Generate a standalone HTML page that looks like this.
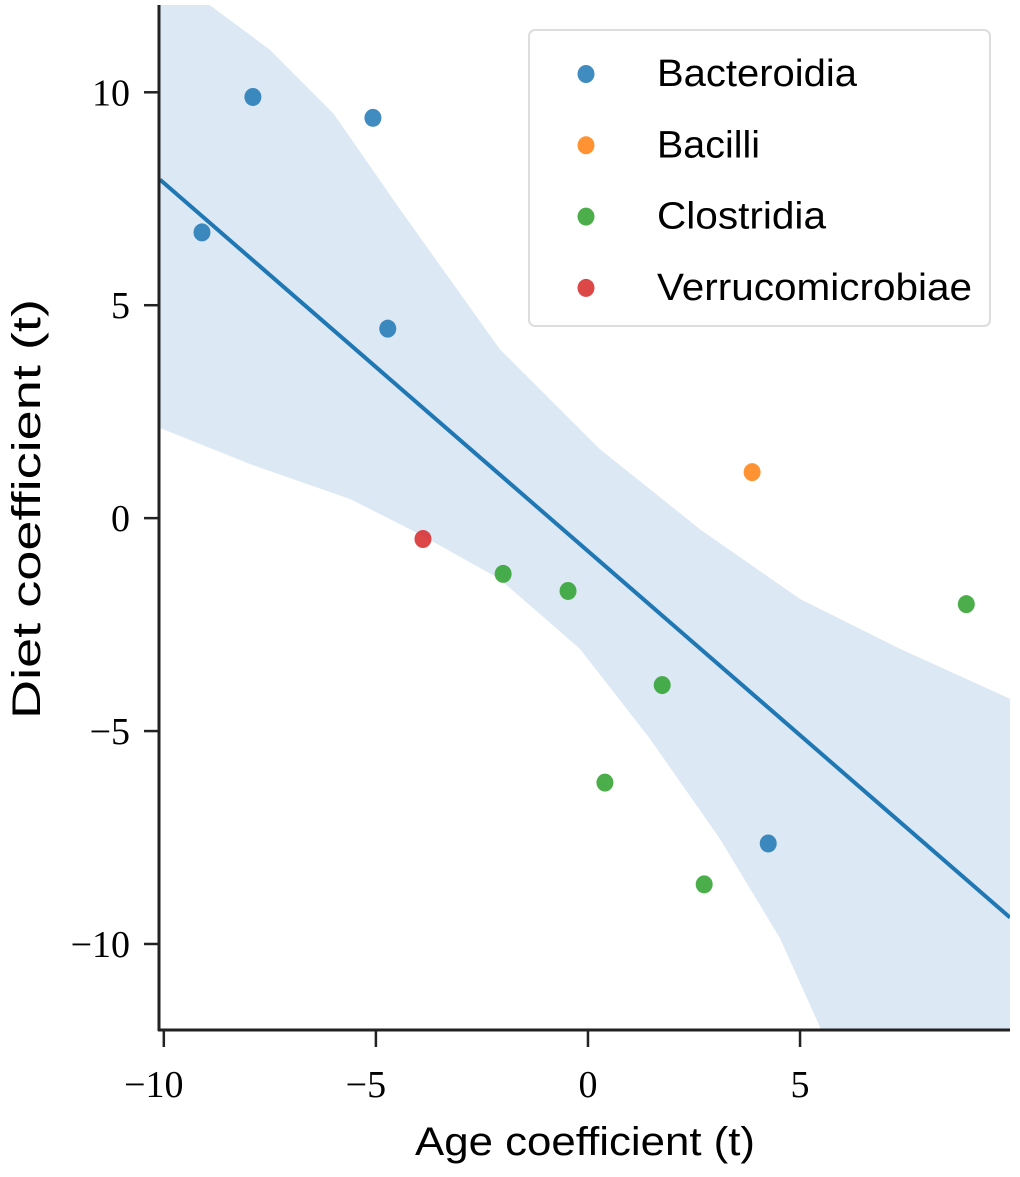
<!DOCTYPE html>
<html><head><meta charset="utf-8"><style>
html,body{margin:0;padding:0;background:#fff;width:1020px;height:1177px;overflow:hidden}
svg text{fill:#000}
.tick{font-family:"Liberation Serif",serif;font-size:38px}
.lab{font-family:"Liberation Sans",sans-serif;font-size:40px}
.leg{font-family:"Liberation Sans",sans-serif;font-size:38px}
</style></head><body>
<svg id="chart" width="1020" height="1177" viewBox="0 0 1020 1177" xmlns="http://www.w3.org/2000/svg">
<defs><clipPath id="plotclip"><rect x="160" y="5" width="850" height="1025"/></clipPath></defs>
<g id="band" clip-path="url(#plotclip)"></g>
<g id="line" clip-path="url(#plotclip)"></g>
<g id="points"></g>
<g id="axes"></g>
<g id="legend"></g>
<text class="lab" x="585" y="1155" text-anchor="middle" textLength="340" lengthAdjust="spacingAndGlyphs">Age coefficient (t)</text>
<text class="lab" transform="translate(40,509) rotate(-90)" text-anchor="middle" textLength="420" lengthAdjust="spacingAndGlyphs">Diet coefficient (t)</text>
</svg>
<script>
const xVals = [-7.9,-5.07,-9.10,-4.72,3.87,-3.89,-2.0,-0.47,1.75,0.40,2.74,8.92,4.25];
const yVals = [9.89,9.40,6.71,4.45,1.08,-0.49,-1.31,-1.71,-3.92,-6.21,-8.60,-2.02,-7.64];
const classes = ["Bacteroidia","Bacteroidia","Bacteroidia","Bacteroidia","Bacilli","Verrucomicrobiae","Clostridia","Clostridia","Clostridia","Clostridia","Clostridia","Clostridia","Bacteroidia"];
const legendLabels = ["Bacteroidia","Bacilli","Clostridia","Verrucomicrobiae"];
const legendColors = ["#1f77b4","#ff7f0e","#2ca02c","#d62728"];
const legendWidths = [200,103,169,315];
const bandUpperX = [-10.3,-10.3,-8.92,-7.5,-6.0,-4.43,-2.08,0.28,2.64,5.0,7.36,10.3,10.3];
const bandUpperY = [2.2,13,12.05,11.0,9.5,7.25,3.97,1.62,-0.26,-1.9,-3.07,-4.4,-13];
const bandLowerX = [-10.3,-7.97,-5.61,-3.96,-2.08,-0.19,1.46,3.11,4.53,5.47,5.6];
const bandLowerY = [2.2,1.27,0.45,-0.38,-1.43,-3.07,-5.18,-7.53,-9.87,-11.95,-13];
const xTicks = [-10,-5,0,5];
const yTicks = [-10,-5,0,5,10];
const xTickLabels = ["\u221210","\u22125","0","5"];
const yTickLabels = ["\u221210","\u22125","0","5","10"];

const NS="http://www.w3.org/2000/svg";
const X0=-10.09, X1=9.95, PX0=160, PX1=1010;
const Y0=-12.02, Y1=12.05, PY0=1030, PY1=5;
const sx=v=>PX0+(v-X0)/(X1-X0)*(PX1-PX0);
const sy=v=>PY0-(v-Y0)/(Y1-Y0)*(PY0-PY1);
function mk(tag,attrs,parent){const e=document.createElementNS(NS,tag);for(const k in attrs)e.setAttribute(k,attrs[k]);parent.appendChild(e);return e;}

let d="M"+bandUpperX.map((x,i)=>sx(x)+","+sy(bandUpperY[i])).join("L");
for(let i=bandLowerX.length-1;i>=0;i--) d+="L"+sx(bandLowerX[i])+","+sy(bandLowerY[i]);
const bandPath=mk("path",{d:d+"Z",fill:"#dce8f3"},document.getElementById("band"));



const n=xVals.length, mx=xVals.reduce((a,b)=>a+b)/n, my=yVals.reduce((a,b)=>a+b)/n;
let sxy=0,sxx=0;for(let i=0;i<n;i++){sxy+=(xVals[i]-mx)*(yVals[i]-my);sxx+=(xVals[i]-mx)**2;}
const slope=sxy/sxx, icpt=my-slope*mx;
const ln=mk("line",{x1:sx(X0),y1:sy(icpt+slope*X0),x2:sx(X1),y2:sy(icpt+slope*X1),stroke:"#1f77b4","stroke-width":4},document.getElementById("line"));



const pg=document.getElementById("points");
for(let i=0;i<n;i++){
  const c=legendColors[legendLabels.indexOf(classes[i])];
  const p=mk("ellipse",{cx:sx(xVals[i]),cy:sy(yVals[i]),rx:8.5,ry:9,fill:c,"fill-opacity":0.85},pg);
  
  
}

const ag=document.getElementById("axes");
mk("line",{x1:159,y1:5,x2:159,y2:1031,stroke:"#222","stroke-width":3},ag);
mk("line",{x1:158,y1:1030,x2:1010,y2:1030,stroke:"#222","stroke-width":3},ag);
xTicks.forEach((v,i)=>{
  mk("line",{x1:sx(v),y1:1030,x2:sx(v),y2:1047,stroke:"#222","stroke-width":2.5},ag);
  const t=mk("text",{x:sx(v)-(v<0?10:0),y:1097,"text-anchor":"middle",class:"tick"},ag);t.textContent=xTickLabels[i];
  
  
});
yTicks.forEach((v,i)=>{
  mk("line",{x1:144,y1:sy(v),x2:159,y2:sy(v),stroke:"#222","stroke-width":2.5},ag);
  const t=mk("text",{x:130,y:sy(v)+13,"text-anchor":"end",class:"tick"},ag);t.textContent=yTickLabels[i];
  
  
});

const lg=document.getElementById("legend");
mk("rect",{x:529,y:30,width:461,height:296,rx:6,fill:"#fff","fill-opacity":0.85,stroke:"#ddd","stroke-width":2},lg);
legendLabels.forEach((l,i)=>{
  const y=72+i*71.3;
  const m=mk("ellipse",{cx:586,cy:y+2,rx:8.5,ry:9,fill:legendColors[i],"fill-opacity":0.85},lg);
  
  
  const t=mk("text",{x:657,y:y+14,class:"leg",textLength:legendWidths[i],lengthAdjust:"spacingAndGlyphs"},lg);t.textContent=l;
  
  
});
</script>
</body></html>
